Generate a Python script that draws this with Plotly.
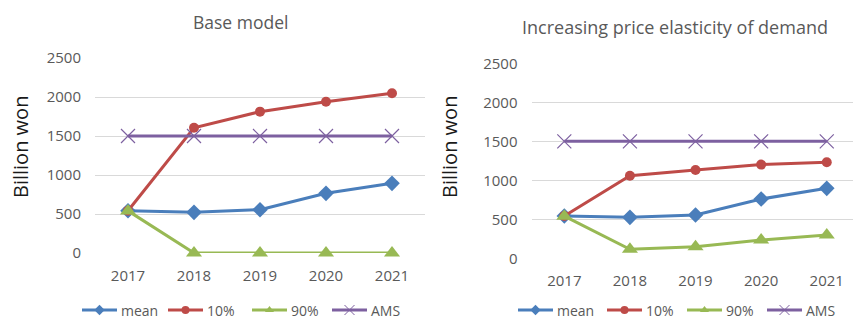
import plotly.graph_objects as go

years = ["2017", "2018", "2019", "2020", "2021"]
y_ticks = [0, 500, 1000, 1500, 2000, 2500]

base_mean = [542, 521, 555, 765, 893]
base_p10 = [542, 1606, 1812, 1940, 2047]
base_p90 = [540, 0, 0, 0, 0]
base_ams = [1500, 1500, 1500, 1500, 1500]

elas_mean = [542, 525, 555, 760, 897]
elas_p10 = [542, 1059, 1132, 1201, 1231]
elas_p90 = [540, 115, 149, 235, 299]
elas_ams = [1500, 1500, 1500, 1500, 1500]

titles = ["Base model", "Increasing price elasticity of demand"]
series_names = ["mean", "10%", "90%", "AMS"]
colors = ["#4A7EBB", "#BE4B48", "#98B954", "#7D60A0"]
symbols = ["diamond", "circle", "triangle-up", "x-thin"]
msizes = [12, 10, 14, 14]

FONT = "Open Sans"
TXT = "#595959"
W, H = 853, 320


def px_x(v):
    return v / W


def px_y(v):
    return 1 - v / H


fig = go.Figure()

panels = [
    (base_mean, base_p10, base_p90, base_ams, "x", "y"),
    (elas_mean, elas_p10, elas_p90, elas_ams, "x2", "y2"),
]
for pi, (m, p10, p90, ams, xa, ya) in enumerate(panels):
    for si, vals in enumerate([m, p10, p90, ams]):
        sym = symbols[si]
        marker = dict(symbol=sym, size=msizes[si], color=colors[si])
        if sym == "x-thin":
            marker["line"] = dict(color=colors[si], width=1.2)
        fig.add_trace(go.Scatter(
            x=years, y=vals, mode="lines+markers", name=series_names[si],
            line=dict(color=colors[si], width=3), marker=marker,
            xaxis=xa, yaxis=ya, showlegend=False, hoverinfo="skip", cliponaxis=False))

axis_common = dict(type="category", showgrid=False, zeroline=False, showline=False,
                   ticks="", tickfont=dict(family=FONT, size=15, color=TXT),
                   ticklabelstandoff=12, automargin=False, fixedrange=True)
yaxis_common = dict(range=[0, 2500], tickvals=y_ticks, showgrid=True, gridcolor="#D9D9D9",
                    gridwidth=1, zeroline=False, showline=False, ticks="",
                    tickfont=dict(family=FONT, size=15, color=TXT),
                    ticklabelstandoff=13, automargin=False, fixedrange=True)

# legend markers on a transparent overlay axis
legend_sets = [([82, 168, 252, 332], 310), ([518, 607, 687, 767], 310)]
for x0_list, ycen in legend_sets:
    for si, x0 in enumerate(x0_list):
        marker = dict(symbol=symbols[si], size=8 if si < 3 else 10, color=colors[si])
        if symbols[si] == "x-thin":
            marker["line"] = dict(color=colors[si], width=1)
        fig.add_trace(go.Scatter(x=[px_x(x0 + 17.5)], y=[px_y(ycen)], mode="markers",
                                 marker=marker, xaxis="x3", yaxis="y3", showlegend=False,
                                 hoverinfo="skip", cliponaxis=False))
        fig.add_shape(type="line", x0=px_x(x0), x1=px_x(x0 + 35), y0=px_y(ycen), y1=px_y(ycen),
                      xref="paper", yref="paper", line=dict(color=colors[si], width=3))
        fig.add_annotation(text=series_names[si], x=px_x(x0 + 37), y=px_y(ycen), xref="paper",
                           yref="paper", showarrow=False, xanchor="left", yanchor="middle",
                           font=dict(family=FONT, size=14, color=TXT))

fig.update_layout(
    width=W, height=H,
    margin=dict(l=0, r=0, t=0, b=0, pad=0, autoexpand=False),
    paper_bgcolor="white", plot_bgcolor="rgba(0,0,0,0)",
    showlegend=False,
    xaxis=dict(axis_common, domain=[px_x(95), px_x(425)], range=[-0.5, 4.5], anchor="y"),
    yaxis=dict(yaxis_common, domain=[px_y(253), px_y(58)], anchor="x"),
    xaxis2=dict(axis_common, domain=[px_x(531.5), 1.0], range=[-0.5, 4.4], anchor="y2"),
    yaxis2=dict(yaxis_common, domain=[px_y(258.3), px_y(63.3)], anchor="x2"),
    xaxis3=dict(domain=[0, 1], range=[0, 1], visible=False, fixedrange=True, anchor="y3",
                automargin=False),
    yaxis3=dict(domain=[0, 1], range=[0, 1], visible=False, fixedrange=True, anchor="x3",
                automargin=False),
)

# titles
fig.add_annotation(text=titles[0], x=px_x(240), y=px_y(22), xref="paper", yref="paper",
                   showarrow=False, font=dict(family=FONT, size=17.5, color=TXT),
                   xanchor="center", yanchor="middle")
fig.add_annotation(text=titles[1], x=px_x(675), y=px_y(27), xref="paper", yref="paper",
                   showarrow=False, font=dict(family=FONT, size=18, color=TXT),
                   xanchor="center", yanchor="middle")

# y-axis titles
for xc, yc in [(20, 147), (449, 147)]:
    fig.add_annotation(text="Billion won", x=px_x(xc), y=px_y(yc), xref="paper", yref="paper",
                       showarrow=False, textangle=-90, xanchor="center", yanchor="middle",
                       font=dict(family=FONT, size=20, color="#1a1a1a"))

fig.write_html("out.html")
